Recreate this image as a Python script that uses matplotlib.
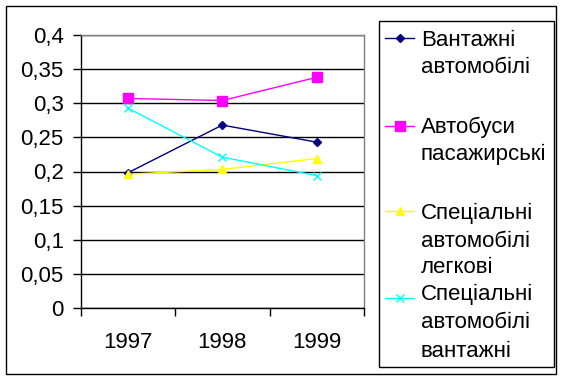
import matplotlib
matplotlib.use("Agg")
import matplotlib.pyplot as plt
from matplotlib.lines import Line2D
from matplotlib.patches import Rectangle

years = ["1997", "1998", "1999"]
vantazhni = [0.198, 0.268, 0.243]
avtobusy = [0.307, 0.304, 0.338]
spec_legkovi = [0.196, 0.203, 0.219]
spec_vantazhni = [0.293, 0.221, 0.194]

series_names = ["Вантажні\nавтомобілі", "Автобуси\nпасажирські",
                "Спеціальні\nавтомобілі\nлегкові", "Спеціальні\nавтомобілі\nвантажні"]
series_vals = [vantazhni, avtobusy, spec_legkovi, spec_vantazhni]
colors = ["#000080", "#FF00FF", "#FFFF00", "#00FFFF"]
markers = ["D", "s", "^", "x"]
msizes = [4, 6.5, 6, 6]

yticks = [0, 0.05, 0.1, 0.15, 0.2, 0.25, 0.3, 0.35, 0.4]
ytick_labels = ["0", "0,05", "0,1", "0,15", "0,2", "0,25", "0,3", "0,35", "0,4"]

plt.rcParams['font.family'] = ['Liberation Sans', 'DejaVu Sans']
FS = 16

W, H = 563, 380
fig = plt.figure(figsize=(W / 100, H / 100), dpi=100)
fig.patch.set_facecolor("white")

def fx(px):
    return px / W

def fy(py):
    return 1 - py / H

ax = fig.add_axes([fx(80.5), fy(308), fx(364) - fx(80.5), fy(35) - fy(308)])
x = list(range(len(years)))
for vals, c, m, ms in zip(series_vals, colors, markers, msizes):
    ax.plot(x, vals, color=c, marker=m, markersize=ms, linewidth=1.0,
            markeredgecolor=c, markerfacecolor=c, markeredgewidth=1.0, zorder=3)

ax.set_xlim(-0.5, len(years) - 0.5)
ax.set_ylim(0, 0.4)
ax.set_yticks(yticks)
ax.set_yticklabels(ytick_labels, fontsize=FS)
ax.set_xticks(x)
ax.set_xticklabels(years, fontsize=FS)
ax.set_xticks([i - 0.5 for i in range(len(years) + 1)], minor=True)
ax.tick_params(axis='x', which='major', length=0, pad=17)
ax.tick_params(axis='x', which='minor', length=6, width=1, direction='out', color='black')
ax.tick_params(axis='y', which='major', length=6, width=1, direction='out', pad=6, color='black')
ax.grid(axis='y', color='black', linewidth=1.0, zorder=1)
ax.set_axisbelow(True)
for s in ['top', 'right']:
    ax.spines[s].set_color('#808080')
    ax.spines[s].set_linewidth(1.0)
for s in ['left', 'bottom']:
    ax.spines[s].set_color('black')
    ax.spines[s].set_linewidth(1.0)

# outer border
fig.patches.append(Rectangle((fx(5.5), fy(374)), fx(556) - fx(5.5), fy(5.5) - fy(374),
                             transform=fig.transFigure, fill=False, edgecolor='black',
                             linewidth=1.0))
# legend box
fig.patches.append(Rectangle((fx(378.5), fy(367)), fx(554) - fx(378.5), fy(20.5) - fy(367),
                             transform=fig.transFigure, fill=False, edgecolor='black',
                             linewidth=1.0))

handle_y = [38, 126, 211, 297.5]
baselines = [[45.7, 72.7], [132.7, 160], [219.3, 247.3, 272.7], [300, 328.3, 356.7]]
for name, c, m, ms, hy, bls in zip(series_names, colors, markers, msizes, handle_y, baselines):
    fig.lines.append(Line2D([fx(385), fx(414)], [fy(hy), fy(hy)], transform=fig.transFigure,
                            color=c, linewidth=1.0))
    fig.lines.append(Line2D([fx(399.5)], [fy(hy)], transform=fig.transFigure, color=c,
                            marker=m, markersize=ms, markeredgecolor=c, markerfacecolor=c,
                            linestyle='none'))
    for line, bl in zip(name.split("\n"), bls):
        fig.text(fx(421), fy(bl), line, fontsize=FS, va='baseline', ha='left')

fig.savefig("out.png", dpi=100, facecolor="white")
